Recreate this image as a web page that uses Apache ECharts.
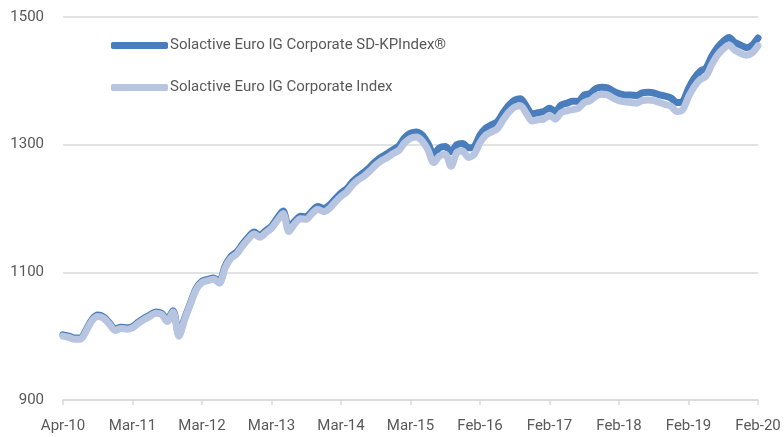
<!DOCTYPE html>
<html>
<head>
<meta charset="utf-8">
<script src="https://cdn.jsdelivr.net/npm/echarts@6/dist/echarts.min.js"></script>
<style>
  html, body { margin: 0; padding: 0; background: #fff; }
  #chart { width: 784px; height: 437px; }
</style>
</head>
<body>
<div id="chart"></div>
<script>
const tickLabels = ['Apr-10', 'Mar-11', 'Mar-12', 'Mar-13', 'Mar-14', 'Mar-15',
  'Feb-16', 'Feb-17', 'Feb-18', 'Feb-19', 'Feb-20'];

const seriesNames = ['Solactive Euro IG Corporate SD-KPIndex®', 'Solactive Euro IG Corporate Index'];

// roughly one reading per month, Apr-10 .. Feb-20
const kpIndex = [
  1002, 1000, 997, 997, 1010, 1026, 1033, 1030, 1021, 1011,
  1014, 1013, 1015, 1022, 1028, 1033, 1038, 1036, 1026, 1040,
  1003, 1028, 1052, 1075, 1086, 1089, 1091, 1086, 1110, 1125,
  1132, 1144, 1155, 1163, 1158, 1165, 1172, 1185, 1196, 1170,
  1180, 1188, 1187, 1196, 1203, 1200, 1205, 1215, 1224, 1231,
  1242, 1250, 1257, 1265, 1274, 1281, 1286, 1292, 1298, 1311,
  1318, 1320, 1315, 1302, 1285, 1295, 1297, 1289, 1300, 1302,
  1295, 1297, 1315, 1326, 1331, 1336, 1350, 1362, 1370, 1372,
  1360, 1348, 1350, 1352, 1357, 1352, 1362, 1365, 1368, 1368,
  1378, 1380, 1388, 1390, 1389, 1384, 1380, 1378, 1378, 1377,
  1381, 1382, 1381, 1378, 1376, 1373, 1366, 1368, 1388, 1404,
  1415, 1420, 1438, 1452, 1462, 1468, 1460, 1456, 1452, 1456,
  1467
];

const baseIndex = [
  1000, 998, 995, 995, 1008, 1024, 1031, 1028, 1019, 1009,
  1012, 1011, 1013, 1020, 1026, 1031, 1036, 1034, 1023, 1038,
  1000, 1026, 1050, 1073, 1084, 1087, 1089, 1083, 1107, 1122,
  1129, 1141, 1152, 1160, 1155, 1162, 1169, 1181, 1192, 1164,
  1176, 1184, 1183, 1192, 1199, 1195, 1200, 1210, 1219, 1226,
  1237, 1245, 1251, 1259, 1268, 1275, 1280, 1286, 1291, 1303,
  1310, 1312, 1306, 1292, 1272, 1282, 1285, 1266, 1288, 1290,
  1280, 1285, 1303, 1315, 1320, 1325, 1339, 1351, 1359, 1361,
  1349, 1337, 1339, 1340, 1346, 1340, 1350, 1353, 1355, 1357,
  1366, 1369, 1376, 1379, 1378, 1373, 1369, 1367, 1366, 1365,
  1369, 1370, 1369, 1366, 1363, 1360, 1352, 1355, 1375, 1391,
  1402, 1407, 1425, 1440, 1450, 1456, 1448, 1443, 1440, 1444,
  1455
];

const chart = echarts.init(document.getElementById('chart'));
const font = "'Roboto', sans-serif";
const textColor = '#595959';

const toPoints = arr => arr.map((v, i) => [i, v]);

chart.setOption({
  animation: false,
  grid: { left: 63, right: 26, top: 17, bottom: 37 },
  legend: {
    orient: 'vertical',
    left: 106,
    top: 33,
    itemWidth: 57,
    itemHeight: 7,
    itemGap: 27,
    icon: 'roundRect',
    textStyle: { fontFamily: font, fontSize: 15, color: textColor, padding: [0, 0, 0, -3] },
    data: seriesNames
  },
  xAxis: {
    type: 'value',
    min: 0,
    max: 120,
    interval: 12,
    splitLine: { show: false },
    axisLine: { lineStyle: { color: '#d9d9d9', width: 1.5 } },
    axisTick: { show: true, length: 5, lineStyle: { color: '#d9d9d9', width: 1.5 } },
    axisLabel: {
      fontFamily: font, fontSize: 15, color: textColor, margin: 19,
      formatter: v => tickLabels[Math.round(v / 12)]
    }
  },
  yAxis: {
    type: 'value',
    min: 900,
    max: 1500,
    interval: 200,
    axisLine: { show: false },
    axisTick: { show: false },
    splitLine: { lineStyle: { color: '#d9d9d9', width: 1.5 } },
    axisLabel: { fontFamily: font, fontSize: 15, color: textColor, margin: 19, formatter: v => String(v) }
  },
  series: [
    {
      name: seriesNames[0],
      type: 'line',
      data: toPoints(kpIndex),
      showSymbol: false,
      smooth: 0.3,
      color: '#4a7dbb',
      lineStyle: { width: 7, cap: 'round', join: 'round' }
    },
    {
      name: seriesNames[1],
      type: 'line',
      data: toPoints(baseIndex),
      showSymbol: false,
      smooth: 0.3,
      color: '#b7c5e1',
      lineStyle: { width: 7, cap: 'round', join: 'round' }
    }
  ]
});
</script>
</body>
</html>
